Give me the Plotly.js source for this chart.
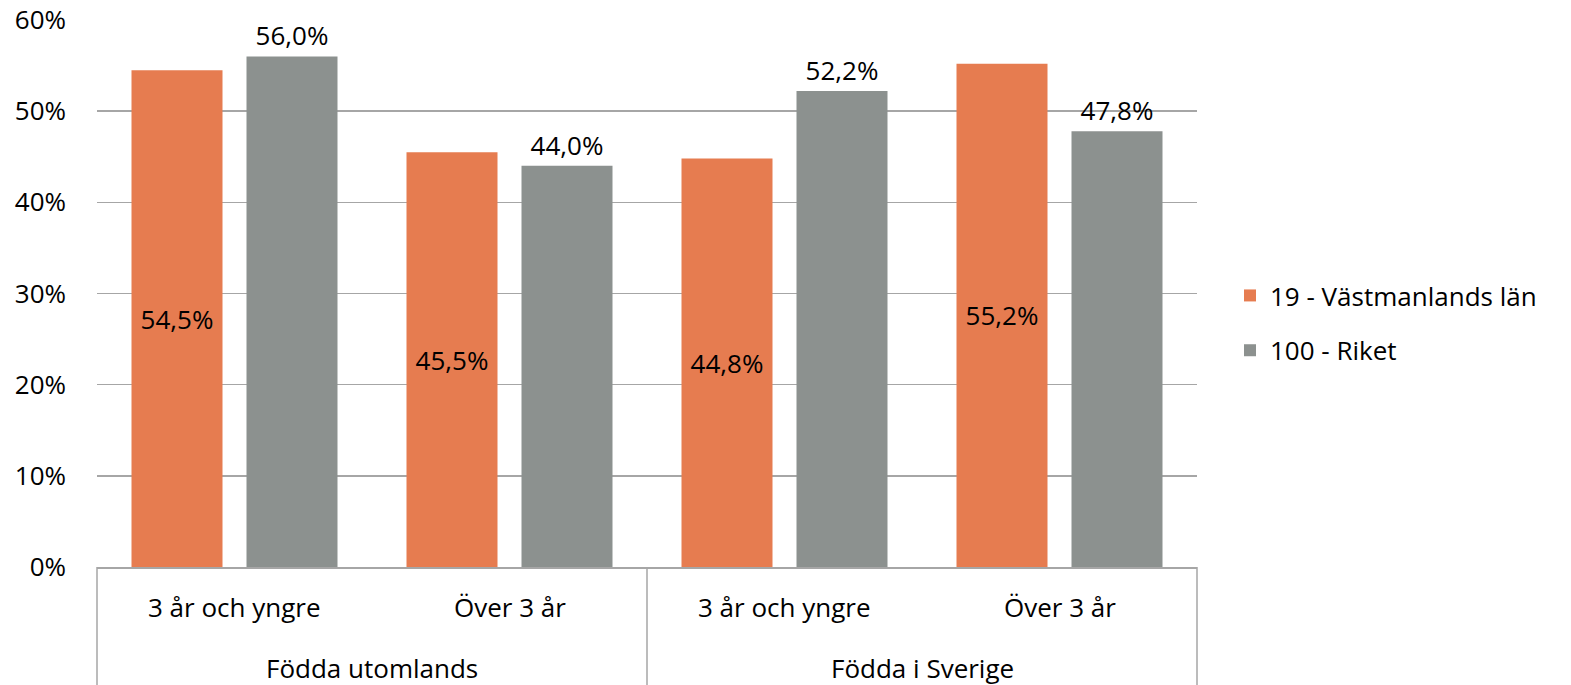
<!DOCTYPE html>
<html>
<head>
<meta charset="utf-8">
<script src="https://cdn.plot.ly/plotly-3.0.1.min.js"></script>
<style>html,body{margin:0;padding:0;background:#fff;}#chart{width:1571px;height:685px;}</style>
</head>
<body>
<div id="chart"></div>
<script>
const groups = ["Födda utomlands", "Födda utomlands", "Födda i Sverige", "Födda i Sverige"];
const subcats = ["3 år och yngre", "Över 3 år", "3 år och yngre", "Över 3 år"];
const seriesNames = ["19 - Västmanlands län", "100 - Riket"];
const vastmanland = [54.5, 45.5, 44.8, 55.2];
const riket = [56.0, 44.0, 52.2, 47.8];
const yTicks = [0, 10, 20, 30, 40, 50, 60];
const yTickText = ["0%", "10%", "20%", "30%", "40%", "50%", "60%"];

const FONT = "'Open Sans', sans-serif";
const FS = 26;
const keys = groups.map((g, i) => g + ' | ' + subcats[i]);

const traces = [
  {
    type: 'bar', name: seriesNames[0], x: keys, y: vastmanland, legendgroup: 'a',
    marker: {color: '#E67C50'},
    texttemplate: '%{y:.1f}%', textposition: 'inside', insidetextanchor: 'middle',
    textfont: {color: '#000', size: FS, family: FONT}, hoverinfo: 'none'
  },
  {
    type: 'bar', name: seriesNames[1], x: keys, y: riket, legendgroup: 'b',
    marker: {color: '#8C918F'},
    texttemplate: '%{y:.1f}%', textposition: 'outside',
    textfont: {color: '#000', size: FS, family: FONT}, hoverinfo: 'none', cliponaxis: false
  }
];

const plotH = 685 - 20 - 118;
const annotations = [];
keys.forEach((k, i) => {
  annotations.push({x: k, xref: 'x', xanchor: 'center', y: -40 / plotH, yref: 'paper', yanchor: 'middle',
    text: subcats[i], showarrow: false, font: {size: FS, family: FONT, color: '#000'}});
});
const uniqueGroups = [...new Set(groups)];
const shapes = [];
const lineColor = '#a6a6a6';
let start = 0;
shapes.push({type: 'line', xref: 'paper', yref: 'paper', x0: 0, x1: 0, y0: 0, y1: -118 / plotH, line: {color: lineColor, width: 1.5}});
uniqueGroups.forEach(g => {
  const n = groups.filter(v => v === g).length;
  const mid = (start + n / 2) / groups.length;
  annotations.push({x: mid, xref: 'paper', xanchor: 'center', y: -101 / plotH, yref: 'paper', yanchor: 'middle',
    text: g, showarrow: false, font: {size: FS, family: FONT, color: '#000'}});
  start += n;
  const end = start / groups.length;
  shapes.push({type: 'line', xref: 'paper', yref: 'paper', x0: end, x1: end, y0: 0, y1: -118 / plotH, line: {color: lineColor, width: 1.5}});
});

const layout = {
  width: 1571, height: 685,
  margin: {l: 97, r: 374, t: 20, b: 118},
  separators: ', ',
  paper_bgcolor: '#fff', plot_bgcolor: '#fff',
  font: {family: FONT, size: FS, color: '#000'},
  barmode: 'group', bargap: 0.1636, bargroupgap: 0.2087,
  showlegend: true,
  legend: {x: 1.03, xanchor: 'left', y: 0.446, yanchor: 'middle', font: {size: FS, family: FONT},
    traceorder: 'grouped', tracegroupgap: 18, itemwidth: 30},
  xaxis: {
    type: 'category', showline: true, linecolor: lineColor, linewidth: 1.5,
    showticklabels: false, ticks: '', showgrid: false
  },
  yaxis: {
    range: [0, 60], tickvals: yTicks, ticktext: yTickText, tickmode: 'array', showgrid: true,
    gridcolor: lineColor, gridwidth: 1.5, zeroline: false, showline: false,
    ticks: '', ticklabelstandoff: 30, tickfont: {size: FS, family: FONT}
  },
  annotations: annotations,
  shapes: shapes
};
Plotly.newPlot('chart', traces, layout, {displayModeBar: false, staticPlot: true});
</script>
</body>
</html>
